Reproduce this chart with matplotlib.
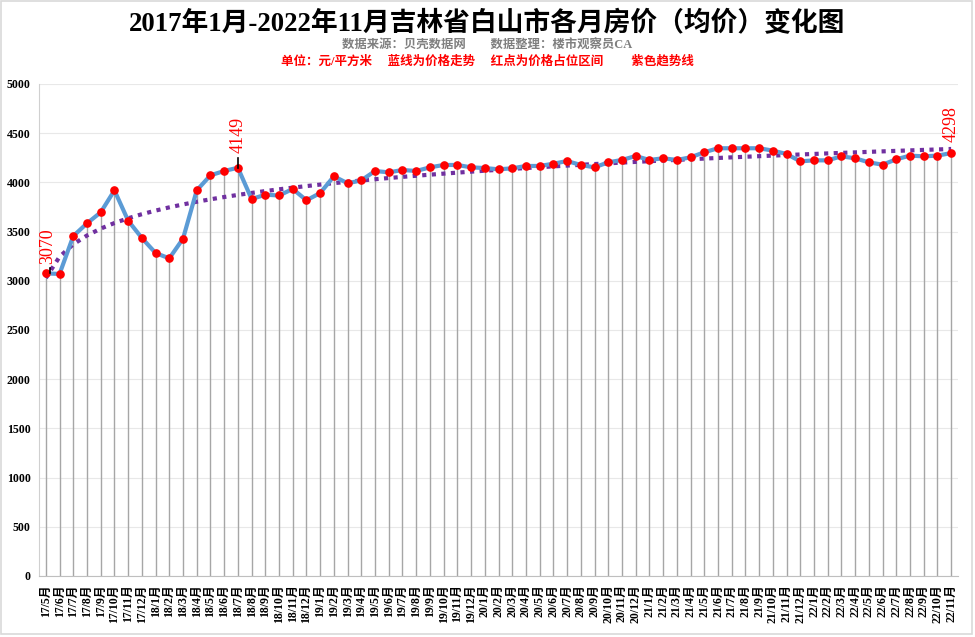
import numpy as np
import matplotlib
matplotlib.use("Agg")
import matplotlib.pyplot as plt
from matplotlib.patches import Rectangle

# ---- data ----
months = (["17/%d月" % m for m in range(5, 13)] +
          ["%d/%d月" % (y, m) for y in range(18, 22) for m in range(1, 13)] +
          ["22/%d月" % m for m in range(1, 12)])
prices = [3075, 3070, 3455, 3584, 3696, 3919, 3611, 3435, 3282, 3228,
          3428, 3919, 4072, 4116, 4149, 3831, 3875, 3867, 3933, 3818,
          3892, 4062, 3991, 4021, 4116, 4102, 4126, 4116, 4153, 4177,
          4177, 4153, 4146, 4133, 4143, 4167, 4167, 4190, 4217, 4177,
          4153, 4204, 4228, 4268, 4228, 4245, 4228, 4255, 4306, 4347,
          4347, 4347, 4347, 4323, 4289, 4214, 4224, 4224, 4265, 4245,
          4204, 4180, 4235, 4272, 4265, 4272, 4298]
yticks = list(range(0, 5001, 500))
title = "2017年1月-2022年11月吉林省白山市各月房价（均价）变化图"
source_line = "数据来源：贝壳数据网　　数据整理：楼市观察员CA"
legend_line = "单位：元/平方米　 蓝线为价格走势　 红点为价格占位区间　　 紫色趋势线"
annotated = {0: "3070", 14: "4149", 66: "4298"}

fam = ["Liberation Serif", "Noto Sans CJK SC"]
plt.rcParams["font.family"] = fam

fig = plt.figure(figsize=(9.75, 6.37), dpi=100)
ax = fig.add_axes([39 / 975, (637 - 576) / 637, (958 - 39) / 975, (576 - 84) / 637])

x = np.arange(len(prices))
vals = np.array(prices, dtype=float)

# drop lines
ax.vlines(x, 0, vals, colors="#A6A6A6", linewidth=1.0, zorder=2)

# log trend line (Excel-style)
xl = x + 1
b, a = np.polyfit(np.log(xl), vals, 1)
trend = a + b * np.log(xl)
ax.plot(x, trend, color="#7030A0", linewidth=3.0, linestyle=(0, (1, 1.3)), zorder=3)

# price line + markers
ax.plot(x, vals, color="#5B9BD5", linewidth=3.0, zorder=4, solid_joinstyle="round")
ax.plot(x, vals, linestyle="none", marker="o", markersize=5.2, color="#FF0000", zorder=5)

# annotations: (leader length, text gap) in data units
lead = {0: (60, 40), 14: (100, 50), 66: (0, 110)}
for i, txt in annotated.items():
    y0 = vals[i]
    ll, gap = lead[i]
    if ll > 0:
        ax.plot([i + (0.3 if i == 0 else 0), i + (0.3 if i == 0 else 0)], [y0, y0 + ll],
                color="black", linewidth=1.2, zorder=6)
    ax.text(i + (0.15 if i == 0 else 0.0), y0 + ll + gap, txt, rotation=90, color="#FF0000",
            fontsize=13, ha="center", va="bottom", family=fam, zorder=7)

ax.set_xlim(-0.5, len(prices) - 0.5)
ax.set_ylim(0, 5000)
ax.set_yticks(yticks)
ax.set_yticklabels([str(t) for t in yticks], fontsize=8.6, fontweight="bold")
ax.set_xticks(x)
ax.set_xticklabels(months, rotation=90, fontsize=8.5, fontweight="bold", va="top")
ax.tick_params(axis="x", length=0, pad=6)
ax.tick_params(axis="y", length=0, pad=6)
ax.grid(axis="y", color="#E8E8E8", linewidth=0.8, zorder=0)
ax.set_axisbelow(True)
for s in ["top", "right"]:
    ax.spines[s].set_visible(False)
ax.spines["left"].set_color("#D0D0D0")
ax.spines["bottom"].set_color("#BFBFBF")

fig.text(0.5, 1 - 24 / 637, title, ha="center", va="center", fontsize=19.3,
         fontweight="bold", family=fam)
fig.text(0.5, 1 - 46 / 637, source_line, ha="center", va="center", fontsize=8.9,
         fontweight="bold", color="#7F7F7F", family=fam)
fig.text(0.5, 1 - 61 / 637, legend_line, ha="center", va="center", fontsize=9.0,
         fontweight="bold", color="#FF0000", family=fam)

fig.patches.append(Rectangle((0.001, 0.004), 0.996, 0.994, transform=fig.transFigure,
                             fill=False, edgecolor="#D9D9D9", linewidth=1.2))

fig.savefig("out.png", dpi=100)
